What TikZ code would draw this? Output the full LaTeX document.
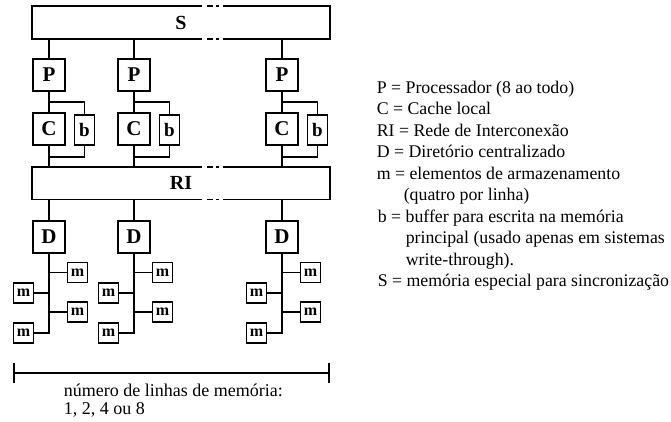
\documentclass[tikz,border=0pt]{standalone}
\usepackage{fontspec}
\setmainfont{Liberation Serif}
\usetikzlibrary{calc,arrows.meta}
\begin{document}
\begin{tikzpicture}[x=1pt,y=-1pt,line width=1.6pt,
  box/.style={draw,line width=1.6pt,inner sep=0pt,minimum width=32pt,minimum height=32pt,
    font=\fontsize{21}{21}\selectfont\bfseries},
  buf/.style={box,minimum width=20pt,minimum height=30pt,font=\fontsize{19}{19}\selectfont\bfseries},
  mem/.style={box,minimum width=20pt,minimum height=20pt,font=\fontsize{16}{16}\selectfont\bfseries},
  bus/.style={inner sep=0pt,minimum width=296pt,minimum height=31pt,font=\fontsize{20}{20}\selectfont\bfseries},
  gapdash/.style={dash pattern=on 6pt off 3pt on 3pt off 9pt,dash phase=16pt},
  legend/.style={anchor=base west,inner sep=0pt,font=\fontsize{17.8}{21.4}\selectfont},
  note/.style={anchor=base west,inner sep=0pt,font=\fontsize{18}{18}\selectfont}]
\useasboundingbox (0,0) rectangle (671,421);

% the two buses
\node[bus] (S)  at (181,22.5) {S};
\node[bus] (RI) at (181,183) {RI};
\coordinate (gl) at (202,0);
\coordinate (gr) at (223,0);
\foreach \b in {S,RI}{
  \draw (gl |- \b.north) -| (\b.south west) -- (gl |- \b.south);
  \draw (gr |- \b.north) -| (\b.south east) -- (gr |- \b.south);
  \draw[gapdash] (gl |- \b.north) -- (gr |- \b.north);
  \draw[gapdash] (gl |- \b.south) -- (gr |- \b.south);
}

% processor columns
\foreach \i/\cx in {1/49,2/134,3/282}{
  \node[box] (P\i) at (\cx,75) {P};
  \node[box] (C\i) at (\cx,129) {C};
  \node[buf] (b\i) at (\cx+35.5,130) {b};
  \node[box] (D\i) at (\cx,237) {D};
  \node[mem] (m\i1) at (\cx+28.5,272.5) {m};
  \node[mem] (m\i2) at (\cx-25.5,293) {m};
  \node[mem] (m\i3) at (\cx+28.5,312) {m};
  \node[mem] (m\i4) at (\cx-25.5,333) {m};
  \draw (P\i |- S.south) -- (P\i.north);
  \draw (P\i.south) -- (C\i.north);
  \draw (P\i.south) ++(0,10) -| (b\i.north);
  \draw (C\i.south) -- (C\i.south |- RI.north);
  \draw (b\i.south) |- ($(C\i.south)+(0,11)$);
  \draw (D\i |- RI.south) -- (D\i.north);
  \draw (D\i.south) |- (m\i4.east);
  \draw (D\i |- m\i1.west) -- (m\i1.west);
  \draw (D\i |- m\i2.east) -- (m\i2.east);
  \draw (D\i |- m\i3.west) -- (m\i3.west);
}

% span of the memory lines
\coordinate (bl) at (13,373);
\coordinate (br) at (330,373);
\draw[{Bar[width=20pt]}-{Bar[width=20pt]}] (bl) -- (br);
\node[note] (n1) at (63,396) {número de linhas de memória:};
\node[note] (n2) at (63,414) {1, 2, 4 ou 8};

% legend
\node[legend] (l1)  at (376,93)    {P = Processador (8 ao todo)};
\node[legend] (l2)  at (376,114.5) {C = Cache local};
\node[legend] (l3)  at (376,136)   {RI = Rede de Interconexão};
\node[legend] (l4)  at (376,157.5) {D = Diretório centralizado};
\node[legend] (l5)  at (376,179)   {m = elementos de armazenamento};
\node[legend] (l6)  at (403,200.5) {(quatro por linha)};
\node[legend] (l7)  at (377,222)   {b = buffer para escrita na memória};
\node[legend] (l8)  at (405,243.5) {principal (usado apenas em sistemas};
\node[legend] (l9)  at (405,265)   {write-through).};
\node[legend] (l10) at (377,286.5) {S = memória especial para sincronização};
\end{tikzpicture}
\end{document}
